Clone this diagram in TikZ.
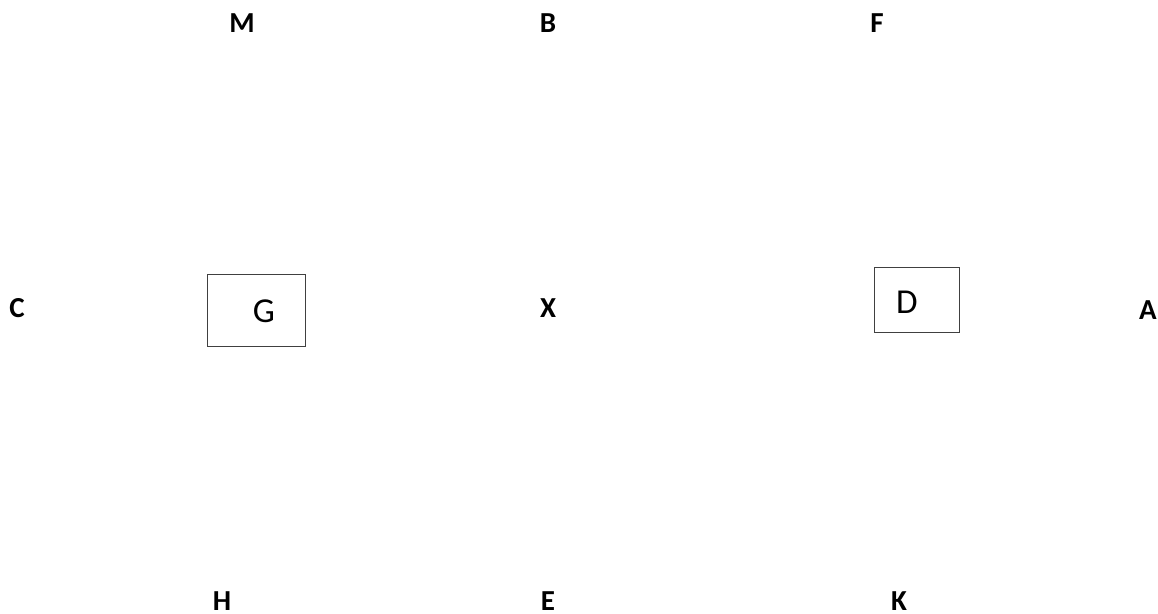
\documentclass[tikz,border=0pt]{standalone}
\usepackage{fontspec}
\setmainfont{Carlito}
\begin{document}
\begin{tikzpicture}[x=1pt,y=-1pt,
  lbl/.style={font=\fontsize{29}{33}\selectfont\bfseries, inner sep=0pt, anchor=center},
  boxnode/.style={draw=black!75, line width=1pt, inner sep=0pt},
  boxtext/.style={font=\fontsize{35}{39}\selectfont, inner sep=0pt, anchor=center}]
\useasboundingbox (0,0) rectangle (1158,613);
\node[lbl] (M) at (242,23) {M};
\node[lbl] (B) at (548,23) {B};
\node[lbl] (F) at (877,23) {F};
\node[lbl] (C) at (17,308) {C};
\node[lbl] (X) at (548,308) {X};
\node[lbl] (A) at (1148,310) {A};
\node[lbl] (H) at (222,601) {H};
\node[lbl] (E) at (548,601) {E};
\node[lbl] (K) at (899,601) {K};
\node[boxnode, minimum width=98pt, minimum height=72pt] (Gb) at (256,310) {};
\node[boxtext] (G) at (264,311) {G};
\node[boxnode, minimum width=85pt, minimum height=65pt] (Db) at (916.5,299.5) {};
\node[boxtext] (D) at (907,302) {D};
\end{tikzpicture}
\end{document}
